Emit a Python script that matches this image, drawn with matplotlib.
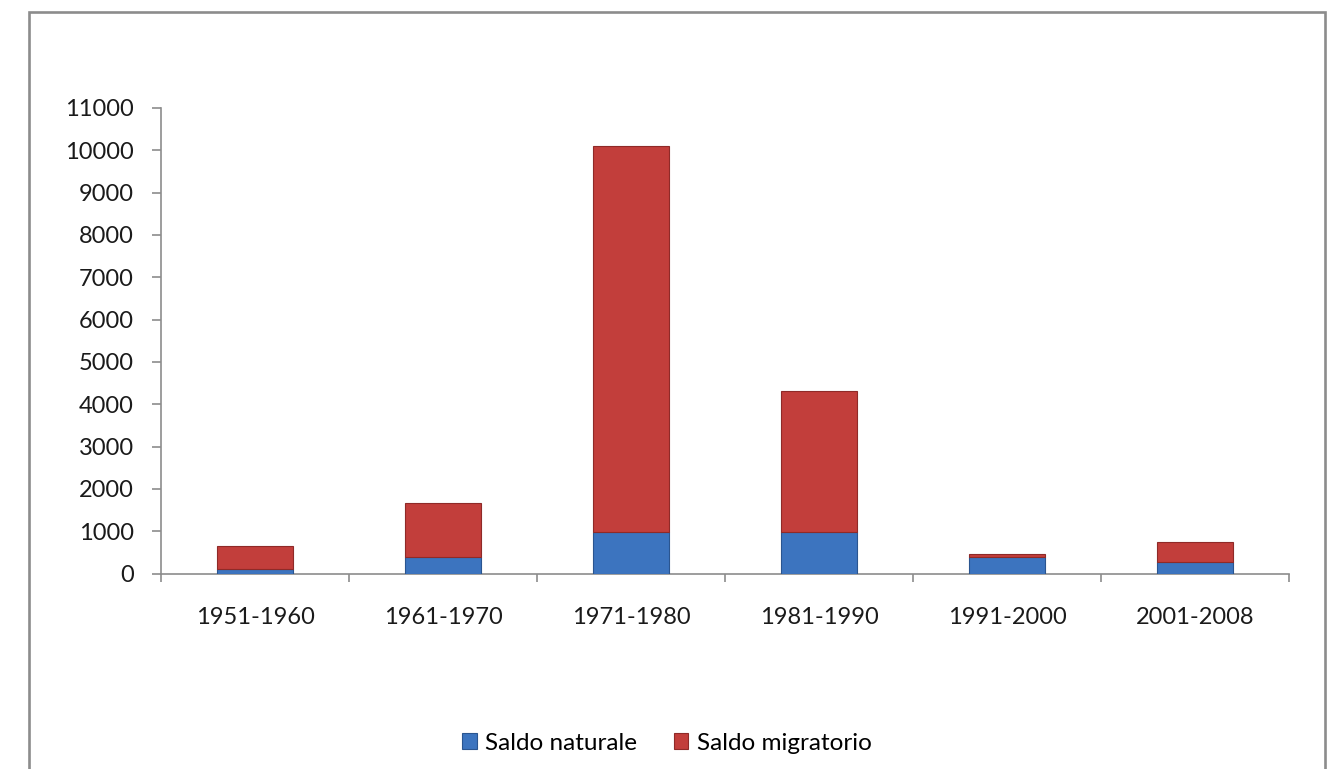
import matplotlib
matplotlib.use('Agg')
import matplotlib.pyplot as plt
import matplotlib.patches as mpatches
import numpy as np

plt.rcParams['font.family'] = ['Lato', 'DejaVu Sans']

# dati
periodi = ['1951-1960', '1961-1970', '1971-1980', '1981-1990', '1991-2000', '2001-2008']
saldo_naturale = [100, 400, 980, 980, 400, 280]
saldo_migratorio = [540, 1260, 9120, 3340, 50, 470]
yticks = list(range(0, 11001, 1000))

W, H = 1329, 769
fig = plt.figure(figsize=(W / 100, H / 100), dpi=100, facecolor='white')

# cornice esterna del grafico
fig.add_artist(mpatches.Rectangle((29 / W, -0.05), (1325 - 29) / W, 1.05 - 12 / H,
                                  transform=fig.transFigure, facecolor='none',
                                  edgecolor='#8c8c8c', lw=1.9))

ax = fig.add_axes([161 / W, 1 - 573.5 / H, (1289 - 161) / W, (573.5 - 108) / H])

x = np.arange(len(periodi))
ax.bar(x, saldo_naturale, width=0.4, color='#3c74bf', edgecolor='#2a5590', lw=0.8,
       label='Saldo naturale', zorder=3)
ax.bar(x, saldo_migratorio, width=0.4, bottom=saldo_naturale, color='#c23e3b',
       edgecolor='#8f2a28', lw=0.8, label='Saldo migratorio', zorder=3)

ax.set_xlim(-0.5, len(periodi) - 0.5)
ax.set_ylim(0, 11000)
ax.set_yticks(yticks)
ax.set_yticklabels([str(v) for v in yticks])
ax.set_xticks(x)
ax.set_xticklabels(periodi)
ax.set_xticks(np.arange(-0.5, len(periodi)), minor=True)

for s in ['top', 'right']:
    ax.spines[s].set_visible(False)
for s in ['left', 'bottom']:
    ax.spines[s].set_color('#8c8c8c')
    ax.spines[s].set_linewidth(1.2)

fs = 17
ax.tick_params(axis='y', length=6.5, width=1.2, color='#8c8c8c', pad=13,
               labelsize=fs, labelcolor='#1a1a1a')
ax.tick_params(axis='x', which='major', length=0, pad=24, labelsize=fs,
               labelcolor='#1a1a1a')
ax.tick_params(axis='x', which='minor', length=6, width=1.2, color='#8c8c8c')

fig.legend(loc='center', bbox_to_anchor=(667 / W, 1 - 743 / H), ncol=2, frameon=False,
           fontsize=17.5, handlelength=0.6, handleheight=0.6, handletextpad=0.35,
           columnspacing=1.5)

fig.savefig('out.png', dpi=100, facecolor='white')
